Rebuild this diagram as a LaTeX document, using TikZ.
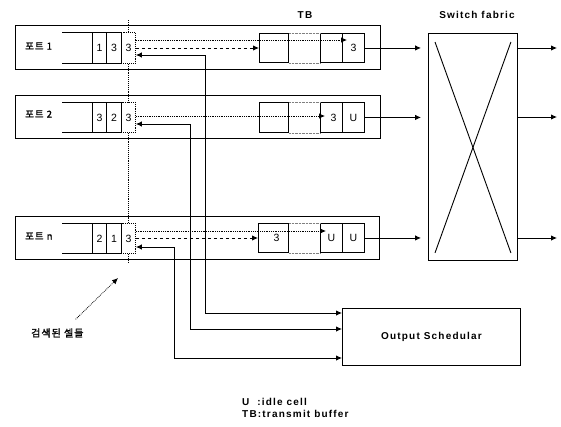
\documentclass[tikz,border=0pt]{standalone}
\usepackage{fontspec}
\setmainfont{Liberation Sans}
\newfontfamily\lab[LetterSpace=12]{Liberation Sans}
\newfontfamily\kr[FakeBold=1.6,LetterSpace=10]{Noto Sans CJK KR}
\usetikzlibrary{arrows.meta}
\begin{document}
\begin{tikzpicture}[x=1pt,y=-1pt,
  portbox/.style={draw, line width=0.9pt, anchor=north west, inner sep=0pt},
  cell/.style={draw, line width=0.9pt, anchor=north west, inner sep=0pt, font=\fontsize{10.5}{10}\selectfont},
  scell/.style={draw, densely dotted, line width=0.9pt, anchor=north west, inner sep=0pt, font=\fontsize{10.5}{10}\selectfont},
  portlab/.style={anchor=west, inner sep=0pt, font=\kr\fontsize{9.5}{10}\selectfont},
  title/.style={inner sep=0pt, font=\lab\bfseries\fontsize{10}{11}\selectfont},
  both/.style={{Latex[length=6pt,width=5.5pt]}-{Latex[length=6pt,width=5.5pt]}, line width=0.9pt},
  outarr/.style={-{Latex[length=6pt,width=5.5pt]}, line width=0.9pt},
  dotarr/.style={densely dotted, line width=0.8pt, -{Latex[length=6pt,width=5.5pt]}},
  dasharr/.style={dashed, line width=0.9pt, -{Latex[length=6pt,width=5.5pt]}}
]
\useasboundingbox (0,0) rectangle (561,426);

% ---------- port boxes ----------
\node[portbox, minimum width=365, minimum height=44] (P1) at (15,25) {};
\node[portbox, minimum width=365, minimum height=43] (P2) at (15,95) {};
\node[portbox, minimum width=364, minimum height=43] (Pn) at (15,216) {};

\node[portlab] (L1) at (25,46) {포트 1};
\node[portlab] (L2) at (25,114) {포트 2};
\node[portlab] (Ln) at (25,236) {포트 n};

% ---------- input queues ----------
\node[cell, minimum width=14, minimum height=31] (q11) at (92,32) {1};
\node[cell, minimum width=15, minimum height=31] (q12) at (106,32) {3};
\node[scell, minimum width=14, minimum height=31] (s1) at (121,32) {3};
\draw[line width=0.9pt] (q11.north west) -- ++(-30,0);
\draw[line width=0.9pt] (q11.south west) -- ++(-30,0);

\node[cell, minimum width=14, minimum height=30] (q21) at (92,102) {3};
\node[cell, minimum width=15, minimum height=30] (q22) at (106,102) {2};
\node[scell, minimum width=14, minimum height=30] (s2) at (121,102) {3};
\draw[line width=0.9pt] (q21.north west) -- ++(-30,0);
\draw[line width=0.9pt] (q21.south west) -- ++(-30,0);

\node[cell, minimum width=14, minimum height=30] (qn1) at (92,223) {2};
\node[cell, minimum width=15, minimum height=30] (qn2) at (106,223) {1};
\node[scell, minimum width=14, minimum height=30] (sn) at (121,223) {3};
\draw[line width=0.9pt] (qn1.north west) -- ++(-30,0);
\draw[line width=0.9pt] (qn1.south west) -- ++(-30,0);

% dotted column through the searched cells
\draw[densely dotted, line width=0.9pt] (s1.north) -- ++(0,-12);
\draw[densely dotted, line width=0.9pt] (s1.south) -- (s2.north);
\draw[densely dotted, line width=0.9pt] (s2.south) -- (sn.north);
\draw[densely dotted, line width=0.9pt] (sn.south) -- ++(0,8);

% ---------- transmit buffers ----------
\node[cell, minimum width=29, minimum height=29] (t1a) at (259,33) {};
\node[cell, minimum width=22, minimum height=29] (t1b) at (320,33) {};
\node[cell, minimum width=22, minimum height=29] (t1c) at (342,33) {\raisebox{-4pt}{3}};
\draw[densely dotted, gray] (t1a.north east) -- (t1b.north west);
\draw[densely dotted, gray] (t1a.south east) -- (t1b.south west);

\node[cell, minimum width=29, minimum height=30] (t2a) at (259,102) {};
\node[cell, minimum width=22, minimum height=30] (t2b) at (320,102) {\hspace{4pt}3};
\node[cell, minimum width=22, minimum height=30] (t2c) at (342,102) {U};
\draw[densely dotted, gray] (t2a.north east) -- (t2b.north west);
\draw[densely dotted, gray] (t2a.south east) -- (t2b.south west);

\node[cell, minimum width=30, minimum height=29] (tna) at (258,223) {\hspace{6pt}\raisebox{-4pt}{3}};
\node[cell, minimum width=22, minimum height=29] (tnb) at (320,223) {\raisebox{-4pt}{U}};
\node[cell, minimum width=22, minimum height=29] (tnc) at (342,223) {U};
\draw[densely dotted, gray] (tna.north east) -- (tnb.north west);
\draw[densely dotted, gray] (tna.south east) -- (tnb.south west);

\node[title] (TBt) at (305,15) {TB};

% transfers searched cell -> TB
\draw[dotarr] (s1.east |- 0,40) -- ([shift={(5,7)}]t1c.north west);
\draw[dasharr] (s1.east |- 0,48) -- (t1a.west |- 0,48);
\draw[dotarr] (s2.east |- 0,116) -- ([shift={(5,14)}]t2b.north west);
\draw[dotarr] (sn.east |- 0,231) -- ([shift={(6,8)}]tnb.north west);
\draw[dasharr] (sn.east |- 0,238) -- (tna.west |- 0,238);

% ---------- switch fabric ----------
\node[portbox, minimum width=89, minimum height=227] (SF) at (428,33) {};
\draw[line width=0.9pt] ([shift={(7,9)}]SF.north west) -- ([shift={(-7,-8)}]SF.south east);
\draw[line width=0.9pt] ([shift={(-7,9)}]SF.north east) -- ([shift={(7,-8)}]SF.south west);
\node[title] (SFt) at (477,15) {Switch fabric};

\draw[outarr, shorten >=7pt] (t1c.east) -- (SF.west |- t1c.east);
\draw[outarr, shorten >=7pt] (t2c.east) -- (SF.west |- t2c.east);
\draw[outarr, shorten >=7pt] (tnc.east) -- (SF.west |- tnc.east);

\coordinate (o1) at (557,48);
\coordinate (o2) at (557,117);
\coordinate (o3) at (557,238);
\draw[outarr] (SF.east |- o1) -- (o1);
\draw[outarr] (SF.east |- o2) -- (o2);
\draw[outarr] (SF.east |- o3) -- (o3);

% ---------- output scheduler ----------
\node[portbox, minimum width=178, minimum height=57, font=\lab\bfseries\fontsize{10}{11}\selectfont] (Sch) at (342,308) {Output Schedular};

\coordinate (v1) at (205,55);
\coordinate (v2) at (190,124);
\coordinate (v3) at (174,247);
\draw[both] (s1.east |- v1) -- (v1) -- (v1 |- 0,313) -- (Sch.west |- 0,313);
\draw[both] (s2.east |- v2) -- (v2) -- (v2 |- 0,329) -- (Sch.west |- 0,329);
\draw[both] (sn.east |- v3) -- (v3) -- (v3 |- 0,358) -- (Sch.west |- 0,358);

% ---------- searched cells label ----------
\node[anchor=west, inner sep=0pt, font=\kr\fontsize{10}{11}\selectfont] (SL) at (31,333) {검색된 셀들};
\coordinate (sa) at (118,278);
\draw[dotarr] ([shift={(-8,-9)}]SL.north east) -- (sa);

% ---------- legend ----------
\node[title, anchor=west] (lg1) at (242,402) {U\ \ :idle cell};
\node[title, anchor=west] (lg2) at (242,414) {TB:transmit buffer};
\end{tikzpicture}
\end{document}
